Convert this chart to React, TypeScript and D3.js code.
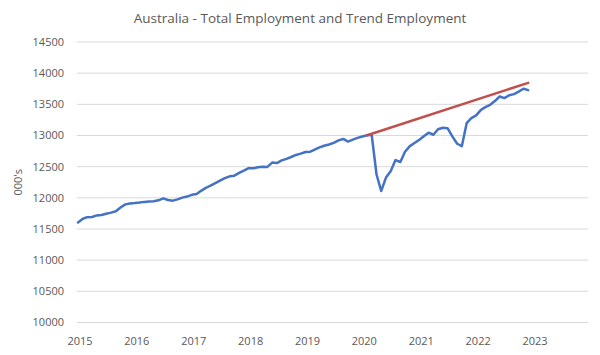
import React from 'react';
import * as d3 from 'd3';

const title = 'Australia - Total Employment and Trend Employment';
const yAxisTitle = "000's";
const yearLabels = [2015, 2016, 2017, 2018, 2019, 2020, 2021, 2022, 2023];
const yTicks = [10000, 10500, 11000, 11500, 12000, 12500, 13000, 13500, 14000, 14500];

// Monthly total employment ('000s), Jan..Dec of each year
const emp2015 = [11605, 11665, 11690, 11692, 11718, 11724, 11745, 11763, 11785, 11845, 11895, 11910];
const emp2016 = [11916, 11924, 11935, 11940, 11945, 11960, 11992, 11965, 11955, 11975, 12003, 12020];
const emp2017 = [12048, 12062, 12112, 12160, 12195, 12235, 12275, 12315, 12345, 12355, 12400, 12436];
const emp2018 = [12476, 12474, 12490, 12500, 12496, 12566, 12558, 12600, 12626, 12655, 12688, 12710];
const emp2019 = [12736, 12740, 12773, 12810, 12836, 12855, 12882, 12922, 12945, 12903, 12934, 12962];
const emp2020 = [12984, 13003, 13012, 12378, 12110, 12325, 12428, 12605, 12575, 12740, 12830, 12880];
const emp2021 = [12932, 12992, 13045, 13012, 13100, 13125, 13118, 12985, 12868, 12828, 13198, 13278];
const emp2022 = [13322, 13412, 13455, 13492, 13552, 13626, 13600, 13646, 13664, 13705, 13750, 13728];

// Trend employment line (start and end points)
const trendDates = ['2020-02-01', '2022-12-01'];
const trendValues = [13003, 13845];

const empYears = [emp2015, emp2016, emp2017, emp2018, emp2019, emp2020, emp2021, emp2022];

export default function App() {
  const W = 600;
  const H = 355;
  const x = d3
    .scaleTime()
    .domain([new Date(2015, 0, 1), new Date(2023, 11, 1)])
    .range([78, 585]);
  const y = d3.scaleLinear().domain([10000, 14500]).range([322.5, 42]);

  const empData = empYears.flatMap((arr, yi) =>
    arr.map((v, m) => ({ date: new Date(2015 + yi, m, 1), v }))
  );
  const trendData = trendDates.map((d, i) => {
    const [yy, mm, dd] = d.split('-').map(Number);
    return { date: new Date(yy, mm - 1, dd), v: trendValues[i] };
  });

  const line = d3
    .line<{ date: Date; v: number }>()
    .x((d) => x(d.date))
    .y((d) => y(d.v));

  const [x0, x1] = x.range();
  const font = "'Open Sans', 'Liberation Sans', sans-serif";
  const textColor = '#595959';

  return (
    <svg
      width={W}
      height={H}
      style={{ position: 'absolute', left: 0, top: 0, background: '#fff' }}
      fontFamily={font}
    >
      <rect width={W} height={H} fill="#fff" />
      <text x={300} y={23} textAnchor="middle" fontSize={13.5} fill={textColor}>
        {title}
      </text>
      {yTicks.map((t) => (
        <g key={t}>
          <line x1={x0 - 1} x2={x1 + 3} y1={y(t)} y2={y(t)} stroke="#D9D9D9" strokeWidth={1} />
          <text x={64} y={y(t)} dy="0.35em" textAnchor="end" fontSize={11} fill={textColor}>
            {t}
          </text>
        </g>
      ))}
      {yearLabels.map((yr) => (
        <text
          key={yr}
          x={x(new Date(yr, 0, 1)) + 2}
          y={345}
          textAnchor="middle"
          fontSize={11}
          fill={textColor}
        >
          {yr}
        </text>
      ))}
      <text
        transform={`translate(22, ${(y(10000) + y(14500)) / 2}) rotate(-90)`}
        textAnchor="middle"
        fontSize={11}
        fill={textColor}
      >
        {yAxisTitle}
      </text>
      <path d={line(empData) || ''} fill="none" stroke="#4472C4" strokeWidth={2.5} strokeLinejoin="round" strokeLinecap="round" />
      <path d={line(trendData) || ''} fill="none" stroke="#C0504D" strokeWidth={2.5} strokeLinecap="round" />
    </svg>
  );
}
